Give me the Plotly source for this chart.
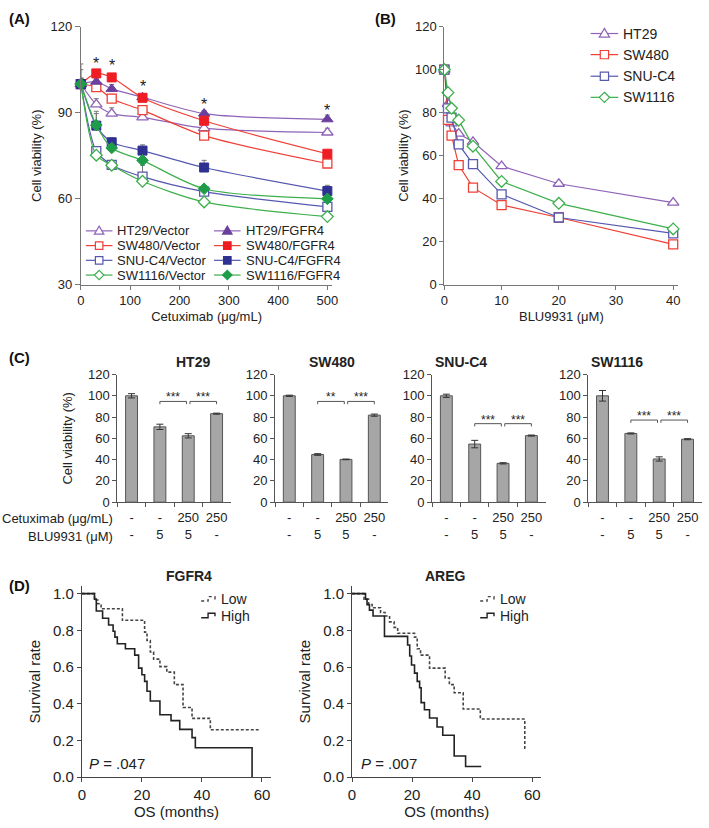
import plotly.graph_objects as go

# ---------------- data ----------------
# (A) cetuximab dose response, Vector vs FGFR4
cetux_dose = [0, 31.25, 62.5, 125, 250, 500]
ht29_vector = [100, 92.9, 89.7, 88.4, 84.6, 83.1]
ht29_fgfr4 = [100, 100.8, 98.3, 95.4, 89.7, 87.7]
sw480_vector = [100, 98.9, 94.9, 90.9, 82.0, 72.3]
sw480_fgfr4 = [100, 103.7, 102.3, 95.2, 87.2, 75.7]
snuc4_vector = [100, 76.6, 71.8, 67.7, 62.5, 57.2]
snuc4_fgfr4 = [100, 85.5, 79.7, 76.8, 70.9, 62.7]
sw1116_vector = [100, 75.2, 71.7, 66.1, 58.9, 53.8]
sw1116_fgfr4 = [100, 85.7, 77.7, 73.4, 63.5, 60.0]
# upward error bars only
ht29_vector_err = [2, 2, 2, 1.5, 1.5, 1.5]
ht29_fgfr4_err = [2, 1, 1.5, 1, 1, 1.5]
sw480_vector_err = [2, 1.5, 1.5, 1.5, 1.5, 1]
sw480_fgfr4_err = [7, 1, 1, 1, 1.5, 1]
snuc4_vector_err = [2, 1, 1.5, 4, 1, 1.5]
snuc4_fgfr4_err = [5, 5, 1.5, 2, 2.5, 2]
sw1116_vector_err = [1, 1, 1, 1, 1, 1]
sw1116_fgfr4_err = [1, 4, 1, 1, 1, 1]
star_dose = [31.25, 62.5, 125, 250, 500]
star_y = [108.6, 107.7, 100.4, 94.1, 92.2]

# (B) BLU9931 dose response
blu_dose = [0, 0.625, 1.25, 2.5, 5, 10, 20, 40]
b_ht29 = [100, 84, 75, 70.2, 66.4, 55.1, 46.9, 38.1]
b_sw480 = [100, 76.6, 69.3, 55.6, 45.1, 37.0, 31.2, 18.7]
b_snuc4 = [100, 82, 77.7, 65.2, 56.0, 42.0, 31.2, 23.8]
b_sw1116 = [100, 89.3, 82.0, 76.5, 64.4, 48.0, 37.8, 25.9]

# (C) combination bars
c_cells = ['HT29', 'SW480', 'SNU-C4', 'SW1116']
cetux_row = ['-', '-', '250', '250']
blu_row = ['-', '5', '5', '-']
c_ht29 = [100, 70.8, 62.4, 83.2]
c_sw480 = [100, 44.8, 40.2, 81.8]
c_snuc4 = [100, 54.6, 36.5, 62.6]
c_sw1116 = [100, 64.6, 40.6, 59.2]
c_ht29_err = [2, 2.5, 2, 0.5]
c_sw480_err = [0.6, 0.8, 0.3, 1]
c_snuc4_err = [1.5, 3.5, 0.6, 0.5]
c_sw1116_err = [5, 0.5, 2, 0.5]
sig_left = ['***', '**', '***', '***']
sig_right = ['***', '***', '***', '***']
sig_height = [94.7, 94.7, 73.8, 77.2]

# (D) Kaplan-Meier curves
fgfr4_low_t = [0, 4.2, 5.3, 6.4, 13.5, 20.9, 21.7, 22.8, 23.9, 26.0, 28.3, 30.8, 33.7, 36.7, 42.8, 58.9]
fgfr4_low_s = [1.0, 0.965, 0.945, 0.918, 0.855, 0.79, 0.745, 0.682, 0.643, 0.602, 0.572, 0.504, 0.379, 0.32, 0.258, 0.258]
fgfr4_high_t = [0, 4.2, 4.8, 6.9, 8.9, 10.4, 11.0, 11.8, 14.5, 17.6, 18.9, 20.0, 20.9, 21.7, 22.8, 26.0, 29.7, 32.6, 36.7, 37.8, 56.7]
fgfr4_high_s = [1.0, 0.97, 0.905, 0.866, 0.829, 0.795, 0.763, 0.727, 0.70, 0.665, 0.594, 0.558, 0.522, 0.468, 0.415, 0.34, 0.308, 0.26, 0.215, 0.16, 0.0]
areg_low_t = [0, 4.0, 5.5, 6.7, 9.5, 11.0, 12.5, 14.0, 15.2, 20.8, 21.7, 22.8, 25.8, 31.0, 32.4, 34.0, 37.0, 42.7, 57.5, 58.0]
areg_low_s = [1.0, 0.97, 0.941, 0.923, 0.897, 0.878, 0.846, 0.816, 0.784, 0.763, 0.70, 0.665, 0.594, 0.54, 0.504, 0.46, 0.371, 0.317, 0.157, 0.157]
areg_high_t = [0, 4.5, 5.0, 5.8, 7.0, 10.8, 18.5, 19.2, 19.8, 20.8, 21.7, 22.5, 23.0, 24.1, 25.8, 28.3, 30.2, 34.0, 37.8, 43.0]
areg_high_s = [1.0, 0.97, 0.94, 0.91, 0.878, 0.767, 0.72, 0.66, 0.611, 0.567, 0.522, 0.487, 0.406, 0.367, 0.322, 0.273, 0.228, 0.115, 0.058, 0.058]

# ---------------- style ----------------
W, H = 709, 828
FONT = 'Arial, Liberation Sans, sans-serif'
INK = '#222222'
PURPLE, PURPLE_D = '#8E63B8', '#6B3F9C'
RED, RED_D = '#EF4036', '#EE1D23'
BLUE, BLUE_D = '#5558AE', '#2E3192'
GREEN, GREEN_D = '#3DAF4B', '#1E9D48'


def fx(p):
    return p / W


def fy(p):
    return 1 - p / H


fig = go.Figure()
shapes = []
annotations = []


# hand-built legends (plotly legend rows are too tall for these panels)
def paper_path(pts, close=True):
    p = 'M ' + ' L '.join('%.5f,%.5f' % (fx(a), fy(b)) for a, b in pts)
    return p + (' Z' if close else '')


def swatch(sym, cx, cy, r, fill, lc):
    if sym == 'square':
        shapes.append(dict(type='rect', xref='paper', yref='paper', x0=fx(cx - r), x1=fx(cx + r),
                           y0=fy(cy + r), y1=fy(cy - r), fillcolor=fill, line=dict(color=lc, width=1.2)))
        return
    if sym == 'diamond':
        pts = [(cx, cy - r - 1), (cx + r + 1, cy), (cx, cy + r + 1), (cx - r - 1, cy)]
    else:
        pts = [(cx, cy - r - 1), (cx + r + 1, cy + r - 0.5), (cx - r - 1, cy + r - 0.5)]
    shapes.append(dict(type='path', xref='paper', yref='paper', path=paper_path(pts),
                       fillcolor=fill, line=dict(color=lc, width=1.2)))


def legend_entry(x0, yy, length, sym, r, fill, lc, line_col, label, size):
    shapes.append(dict(type='line', xref='paper', yref='paper', x0=fx(x0), x1=fx(x0 + length),
                       y0=fy(yy), y1=fy(yy), line=dict(color=line_col, width=1.2)))
    swatch(sym, x0 + length / 2, yy, r, fill, lc)
    annotations.append(dict(x=fx(x0 + length + 3), y=fy(yy), xref='paper', yref='paper',
                            text=label, showarrow=False, xanchor='left', yanchor='middle',
                            font=dict(size=size, color=INK)))


# ---------------- (A) ----------------
a_specs = [
    ('HT29', ht29_vector, ht29_vector_err, ht29_fgfr4, ht29_fgfr4_err, 'triangle-up', PURPLE, PURPLE_D, 10),
    ('SW480', sw480_vector, sw480_vector_err, sw480_fgfr4, sw480_fgfr4_err, 'square', RED, RED_D, 9),
    ('SNU-C4', snuc4_vector, snuc4_vector_err, snuc4_fgfr4, snuc4_fgfr4_err, 'square', BLUE, BLUE_D, 9),
    ('SW1116', sw1116_vector, sw1116_vector_err, sw1116_fgfr4, sw1116_fgfr4_err, 'diamond', GREEN, GREEN_D, 9),
]


def err_up(e):
    return dict(type='data', symmetric=False, array=e, arrayminus=[0] * len(e),
                color='#777777', thickness=1, width=2.5)


for name, vec, vec_e, fg, fg_e, sym, cl, cd, sz in a_specs:
    fig.add_trace(go.Scatter(
        x=cetux_dose, y=vec, mode='lines+markers', name=name + '/Vector',
        line=dict(color=cl, width=1.2, shape='spline', smoothing=0.8),
        marker=dict(symbol=sym, size=sz, color='white', line=dict(color=cl, width=1.3)),
        error_y=err_up(vec_e), cliponaxis=False, showlegend=False, xaxis='x', yaxis='y'))
for name, vec, vec_e, fg, fg_e, sym, cl, cd, sz in a_specs:
    fig.add_trace(go.Scatter(
        x=cetux_dose, y=fg, mode='lines+markers', name=name + '/FGFR4',
        line=dict(color=cl, width=1.2, shape='spline', smoothing=0.8),
        marker=dict(symbol=sym, size=sz, color=cd, line=dict(color=cd, width=1)),
        error_y=err_up(fg_e), cliponaxis=False, showlegend=False, xaxis='x', yaxis='y'))

a_leg_rows = [228, 243, 258, 273]
for i, (name, vec, vec_e, fg, fg_e, sym, cl, cd, sz) in enumerate(a_specs):
    legend_entry(83, a_leg_rows[i], 27, sym, 3.8, 'white', cl, cl, name + '/Vector', 13)
    legend_entry(213, a_leg_rows[i], 27, sym, 3.8, cd, cd, cl, name + '/FGFR4', 13)

for sx, sy in zip(star_dose, star_y):
    annotations.append(dict(x=sx, y=sy, xref='x', yref='y', text='*', showarrow=False,
                            xanchor='center', yanchor='middle', yshift=-4,
                            font=dict(size=16, color=INK)))

# ---------------- (B) ----------------
b_specs = [('HT29', b_ht29, 'triangle-up', PURPLE, 10), ('SW480', b_sw480, 'square', RED, 9),
           ('SNU-C4', b_snuc4, 'square', BLUE, 9), ('SW1116', b_sw1116, 'diamond', GREEN, 9)]
b_leg_rows = [27, 48.5, 70.5, 92]
for i, (name, vals, sym, col, sz) in enumerate(b_specs):
    fig.add_trace(go.Scatter(
        x=blu_dose, y=vals, mode='lines+markers', name=name,
        line=dict(color=col, width=1.2),
        marker=dict(symbol=sym, size=sz, color='white', line=dict(color=col, width=1.3)),
        cliponaxis=False, showlegend=False, xaxis='x2', yaxis='y2'))
    legend_entry(595, b_leg_rows[i], 28, sym, 4.2, 'white', col, col, name, 14)

# ---------------- (C) ----------------
c_vals = [c_ht29, c_sw480, c_snuc4, c_sw1116]
c_errs = [c_ht29_err, c_sw480_err, c_snuc4_err, c_sw1116_err]
c_cats = [a + '<br>' + b for a, b in zip(cetux_row, blu_row)]
c_left = [115, 275, 434.3, 592.7]
for k, cell in enumerate(c_cells):
    xa, ya = 'x%d' % (3 + k), 'y%d' % (3 + k)
    fig.add_trace(go.Bar(
        x=c_cats, y=c_vals[k], width=0.42, showlegend=False,
        marker=dict(color='#A6A6A6', line=dict(color='#555555', width=1)),
        error_y=dict(type='data', array=c_errs[k], color='#333333', thickness=1, width=3.5),
        xaxis=xa, yaxis=ya))
    h = sig_height[k]
    for (a, b), txt in [((1.0, 1.94), sig_left[k]), ((2.06, 3.0), sig_right[k])]:
        for (xx0, yy0, xx1, yy1) in [(a, h - 2.6, a, h), (a, h, b, h), (b, h, b, h - 2.6)]:
            shapes.append(dict(type='line', xref=xa, yref=ya, x0=xx0, y0=yy0, x1=xx1, y1=yy1,
                               line=dict(color='#555555', width=1)))
        annotations.append(dict(x=(a + b) / 2, y=h, xref=xa, yref=ya, text=txt, showarrow=False,
                                yanchor='bottom', yshift=-5, font=dict(size=12, color=INK)))
    annotations.append(dict(x=fx(c_left[k] + 57.5), y=fy(362), xref='paper', yref='paper',
                            text='<b>%s</b>' % cell, showarrow=False, yanchor='middle',
                            font=dict(size=14, color=INK)))

annotations.append(dict(x=fx(113), y=fy(521), xref='paper', yref='paper', text='Cetuximab (μg/mL)',
                        showarrow=False, xanchor='right', yanchor='middle', font=dict(size=13, color=INK)))
annotations.append(dict(x=fx(113), y=fy(539), xref='paper', yref='paper', text='BLU9931 (μM)',
                        showarrow=False, xanchor='right', yanchor='middle', font=dict(size=13, color=INK)))

# ---------------- (D) ----------------
km_specs = [('x7', 'y7', fgfr4_low_t, fgfr4_low_s, fgfr4_high_t, fgfr4_high_s, 200),
            ('x8', 'y8', areg_low_t, areg_low_s, areg_high_t, areg_high_s, 483)]
LOW_LINE = dict(color='#444444', width=1.6, dash='3px,2px', shape='hv')
HIGH_LINE = dict(color='#222222', width=1.6, shape='hv')
for xa, ya, lt, ls, ht, hs, lx in km_specs:
    fig.add_trace(go.Scatter(x=lt, y=ls, mode='lines', name='Low', line=LOW_LINE,
                             showlegend=False, xaxis=xa, yaxis=ya))
    fig.add_trace(go.Scatter(x=ht, y=hs, mode='lines', name='High', line=HIGH_LINE,
                             showlegend=False, xaxis=xa, yaxis=ya))
    # step-shaped legend keys
    for yy, label, ln in [(603, 'Low', LOW_LINE), (620, 'High', HIGH_LINE)]:
        pts = [(lx, yy + 2), (lx + 7, yy + 2), (lx + 7, yy - 2.5), (lx + 14, yy - 2.5), (lx + 14, yy + 0.5)]
        shapes.append(dict(type='path', xref='paper', yref='paper', path=paper_path(pts, close=False),
                           line=dict(color=ln['color'], width=1.4, dash='dot' if 'dash' in ln else 'solid')))
        annotations.append(dict(x=fx(lx + 18), y=fy(yy), xref='paper', yref='paper', text=label,
                                showarrow=False, xanchor='left', yanchor='middle',
                                font=dict(size=14, color=INK)))

for xc, txt in [(162, 'FGFR4'), (448, 'AREG')]:
    annotations.append(dict(x=fx(xc), y=fy(580), xref='paper', yref='paper', text='<b>%s</b>' % txt,
                            showarrow=False, yanchor='middle', font=dict(size=14, color=INK)))
for xl, txt in [(84, '.047'), (360, '.007')]:
    annotations.append(dict(x=fx(xl), y=fy(770), xref='paper', yref='paper', text='<i>P</i> = ' + txt,
                            showarrow=False, xanchor='left', yanchor='middle', font=dict(size=15, color=INK)))

# panel labels
for xl, yl, txt in [(3, 1, '(A)'), (374, 1, '(B)'), (3, 346, '(C)'), (3, 578, '(D)')]:
    annotations.append(dict(x=fx(xl), y=fy(yl), xref='paper', yref='paper', text='<b>%s</b>' % txt,
                            showarrow=False, xanchor='left', yanchor='top', font=dict(size=15, color='#111111')))


# ---------------- axes ----------------
def axis(dom, rng, line='#777777', size=13, **kw):
    d = dict(domain=dom, range=rng, showgrid=False, zeroline=False, showline=True,
             linecolor=line, linewidth=1, ticks='outside', ticklen=4, tickcolor=line,
             tickfont=dict(size=size, color=INK))
    d.update(kw)
    return d


def title(text, size=13, standoff=6):
    return dict(text=text, font=dict(size=size, color=INK), standoff=standoff)


layout_axes = dict(
    xaxis=axis([fx(78), fx(333)], [0, 510], anchor='y', tickvals=[0, 100, 200, 300, 400, 500],
               title=title('Cetuximab (μg/mL)', standoff=4)),
    yaxis=axis([fy(283), fy(20)], [30, 120], anchor='x', tickvals=[30, 60, 90, 120], ticklen=5,
               title=title('Cell viability (%)', standoff=6)),
    xaxis2=axis([fx(446.7), fx(684)], [0, 40.9], anchor='y2', tickvals=[0, 10, 20, 30, 40],
                title=title('BLU9931 (μM)', standoff=4)),
    yaxis2=axis([fy(282.7), fy(20)], [0, 120], anchor='x2', tickvals=[0, 20, 40, 60, 80, 100, 120],
                title=title('Cell viability (%)', standoff=3)),
    xaxis7=axis([fx(79), fx(270.8)], [0, 63], line='#444444', size=15, anchor='y7',
                tickvals=[0, 20, 40, 60], title=title('OS (months)', size=15, standoff=2)),
    yaxis7=axis([fy(784.3), fy(590)], [0, 1.04], line='#444444', size=15, anchor='x7',
                tickvals=[0, 0.2, 0.4, 0.6, 0.8, 1.0], tickformat='.1f',
                title=title('Survival rate', size=15, standoff=8)),
    xaxis8=axis([fx(353), fx(545)], [0, 63], line='#444444', size=15, anchor='y8',
                tickvals=[0, 20, 40, 60], title=title('OS (months)', size=15, standoff=2)),
    yaxis8=axis([fy(784.3), fy(590)], [0, 1.04], line='#444444', size=15, anchor='x8',
                tickvals=[0, 0.2, 0.4, 0.6, 0.8, 1.0], tickformat='.1f',
                title=title('Survival rate', size=15, standoff=8)),
)
for k in range(4):
    xn, yn = 'xaxis%d' % (3 + k), 'yaxis%d' % (3 + k)
    layout_axes[xn] = axis([fx(c_left[k]), fx(c_left[k] + 115)], [-0.5, 3.5], line='#555555',
                           anchor='y%d' % (3 + k), type='category', tickson='boundaries',
                           categoryorder='array', categoryarray=c_cats, tickangle=0,
                           ticklabelstandoff=3)
    layout_axes[yn] = axis([fy(504.3), fy(374.3)], [0, 120], line='#555555', anchor='x%d' % (3 + k),
                           tickvals=[0, 20, 40, 60, 80, 100, 120])
layout_axes['yaxis3']['title'] = title('Cell viability (%)', standoff=12)

fig.update_layout(
    width=W, height=H, margin=dict(l=0, r=0, t=0, b=0),
    paper_bgcolor='white', plot_bgcolor='white',
    font=dict(family=FONT, color=INK), showlegend=False,
    shapes=shapes, annotations=annotations, bargap=0.5,
    **layout_axes)

fig.write_html('out.html', config={'displayModeBar': False},
               post_script="document.body.style.margin='0';")
